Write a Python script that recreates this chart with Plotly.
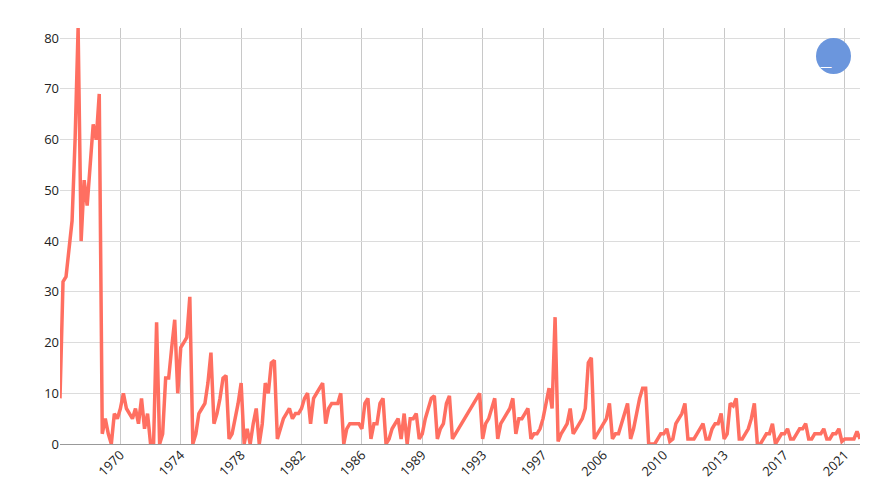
import plotly.graph_objects as go

values = (
    [9,32,33,38,44,60,82,40,52,47,56,63,60,69,2,5,2,0,6,5]
    + [7,10,7,6,5,7,4,9,3,6,0,0,24,0,2,13,13,19,24.5,10]
    + [19,20,21,29,0,2,6,7,8,12,18,4,6,9,13,13.5,1,2,5,8]
    + [12,0,3,0,4,7,0,4,12,10,16,16.5,1,3,5,6,7,5,6,6]
    + [7,9,10,4,9,10,11,12,4,7,8,8,8,10,0,3,4,4,4,4]
    + [3,8,9,1,4,4,8,9,0,1,3,4,5,1,6,0,5,5,6,1]
    + [2,5,7,9,9.5,1,3,4,8,9.5,1,2,3,4,5,6,7,8,9,10]
    + [1,4,5,7,9,1,4,5,6,7,9,2,5,5,6,7,1,2,2,3]
    + [5,8,11,7,25,0.5,2,3,4,7,2,3,4,5,7,16,17,1,2,3]
    + [4,5,8,1,2,2,4,6,8,1,3,6,9,11,11,0,0,0,1,2]
    + [2,3,0.5,1,4,5,6,8,1,1,1,2,3,4,1,1,3,4,4,6]
    + [1,2,8,7.5,9,1,1,2,3,5,8,0,0,1,2,2,4,0,1,2]
    + [2,3,1,1,2,3,3,4,1,1,2,2,2,3,1,1,2,2,3,0.5]
    + [1,1,1,1,2.5,1]
)
tick_labels = ["1970","1974","1978","1982","1986","1989","1993","1997","2006","2010","2013","2017","2021"]
tick_positions = [20*(i+1) for i in range(len(tick_labels))]
x = list(range(len(values)))

fig = go.Figure(go.Scatter(x=x, y=values, mode="lines",
                           line=dict(color="#ff6f61", width=3.5), hoverinfo="skip"))
fig.update_layout(
    width=873, height=500, plot_bgcolor="white", paper_bgcolor="white",
    margin=dict(l=52, r=21, t=20, b=64), showlegend=False,
    font=dict(family="Open Sans", size=13, color="#222"),
    xaxis=dict(range=[0, len(values)-1], tickvals=tick_positions, ticktext=tick_labels,
               tickangle=-45, showgrid=True, gridcolor="#c8c8c8", zeroline=False,
               ticks="", showline=False),
    yaxis=dict(range=[0, 82], dtick=10, showgrid=True, gridcolor="#dcdcdc",
               zeroline=True, zerolinecolor="#999", zerolinewidth=1, ticks=""),
)
fig.add_shape(type="circle", xref="paper", yref="paper",
              x0=(808-52)/800, x1=(843-52)/800, y0=(436-66)/416, y1=(436-30)/416,
              fillcolor="#6b96dd", line=dict(width=0), layer="above")
fig.add_annotation(xref="paper", yref="paper", x=(825.5-52)/800, y=(436-48)/416,
                   text="—", showarrow=False, font=dict(color="white", size=12))
fig.write_html("out.html")
